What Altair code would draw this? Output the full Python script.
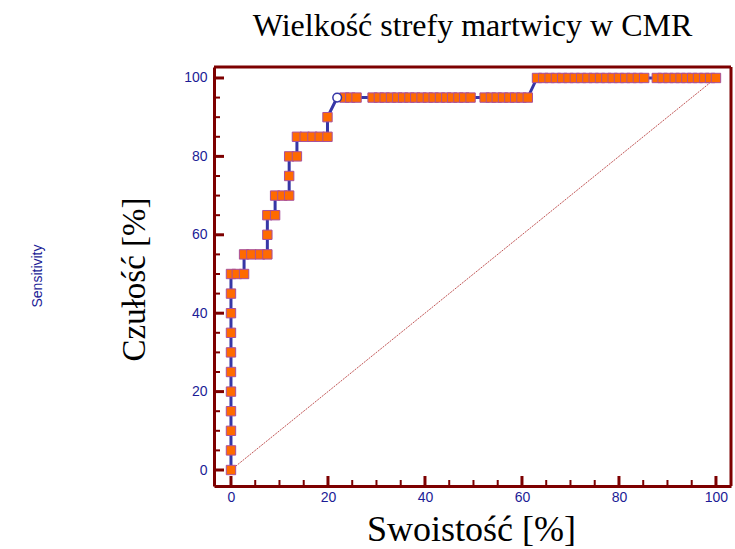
import altair as alt
import pandas as pd

title_text = "Wielkość strefy martwicy w CMR"
x_title = "Swoistość [%]"
y_title = "Czułość [%]"
side_label = "Sensitivity"

# ROC criterion points: 100 - specificity (%) and sensitivity (%), one row per sensitivity level
fpr = [
    0, 0, 0, 0, 0, 0, 0, 0, 0, 0,
    0, 1.2, 2.7,
    2.7, 4.2, 6.0, 7.5,
    7.5,
    7.5, 9.1,
    9.1, 10.6, 12.0,
    12.0,
    12.0, 13.6,
    13.6, 15.2, 16.8, 18.3, 19.9,
    19.9,
    21.9, 23.4, 24.6, 25.9, 29.2, 30.5, 31.7, 33.0, 34.3, 35.5, 36.8, 38.0, 39.3,
    40.6, 41.8, 43.1, 44.4, 45.6, 46.9, 48.1, 49.4, 52.3, 53.6, 54.8, 56.1, 57.4,
    58.6, 59.9, 61.2,
    63.1, 64.4, 65.7, 67.0, 68.3, 69.6, 70.9, 72.2, 73.5, 74.8, 76.1, 77.4, 78.7,
    80.0, 81.3, 82.6, 83.9, 85.2, 87.8, 89.0, 90.2, 91.5, 92.7, 93.9, 95.1, 96.3,
    97.6, 98.8, 100,
]
sens = [
    0, 5, 10, 15, 20, 25, 30, 35, 40, 45,
    50, 50, 50,
    55, 55, 55, 55,
    60,
    65, 65,
    70, 70, 70,
    75,
    80, 80,
    85, 85, 85, 85, 85,
    90,
    95, 95, 95, 95, 95, 95, 95, 95, 95, 95, 95, 95, 95,
    95, 95, 95, 95, 95, 95, 95, 95, 95, 95, 95, 95, 95,
    95, 95, 95,
    100, 100, 100, 100, 100, 100, 100, 100, 100, 100, 100, 100, 100,
    100, 100, 100, 100, 100, 100, 100, 100, 100, 100, 100, 100, 100,
    100, 100, 100,
]

# optimal criterion, drawn as an open circle
opt_fpr = 21.9
opt_sens = 95

# chance diagonal
diag_x = [0, 100]
diag_y = [0, 100]

# axis labels and tick positions
label_values = [0, 20, 40, 60, 80, 100]
major_ticks = [0, 20, 40, 60, 80, 100]
minor_ticks = [5, 10, 15, 25, 30, 35, 45, 50, 55, 65, 70, 75, 85, 90, 95]

FRAME = "#7d0000"
LABEL = "#1c1c96"
CURVE = "#3636a6"

W, H = 517, 419

roc = pd.DataFrame({"fpr": fpr, "sens": sens, "order": list(range(len(fpr)))})
squares = roc[~((roc.fpr == opt_fpr) & (roc.sens == opt_sens))]
opt = pd.DataFrame({"fpr": [opt_fpr], "sens": [opt_sens]})
diag = pd.DataFrame({"fpr": diag_x, "sens": diag_y})
xmaj = pd.DataFrame({"v": major_ticks})
xmin = pd.DataFrame({"v": minor_ticks})
side = pd.DataFrame({"t": [side_label]})
one = pd.DataFrame({"k": [0]})

xs = alt.Scale(domain=[-3.5, 103.1], nice=False, zero=False)
ys = alt.Scale(domain=[-4.08, 102.8], nice=False, zero=False)

x_axis = alt.Axis(
    values=label_values, title=x_title, ticks=False, grid=False,
    domainColor=FRAME, domainWidth=3,
    labelColor=LABEL, labelFont="Liberation Sans", labelFontSize=14, labelPadding=4,
    titleFont="Liberation Serif", titleFontSize=36, titleFontWeight="normal",
    titleColor="black", titleX=257, titleY=54, titleBaseline="alphabetic",
    titleAlign="center",
)
y_axis = alt.Axis(
    values=label_values, title=y_title, ticks=False, grid=False,
    domainColor=FRAME, domainWidth=3,
    labelColor=LABEL, labelFont="Liberation Sans", labelFontSize=14, labelPadding=7,
    titleFont="Liberation Serif", titleFontSize=33, titleFontWeight="normal",
    titleColor="black", titleX=-70, titleY=212, titleBaseline="alphabetic",
    titleAlign="center", titleAngle=270,
)


def X(field):
    return alt.X(field, type="quantitative", scale=xs, axis=x_axis)


def Y(field):
    return alt.Y(field, type="quantitative", scale=ys, axis=y_axis)


diag_layer = alt.Chart(diag).mark_line(
    color="#b02828", strokeWidth=0.8, strokeDash=[2, 1]
).encode(x=X("fpr"), y=Y("sens"))

curve = alt.Chart(roc).mark_line(color=CURVE, strokeWidth=3).encode(
    x=X("fpr"), y=Y("sens"), order="order:Q"
)

pts = alt.Chart(squares).mark_point(
    shape="square", filled=True, size=88, fill="#ff6a00", stroke="#a8509c",
    strokeWidth=1, opacity=1,
).encode(x=X("fpr"), y=Y("sens"))

opt_pt = alt.Chart(opt).mark_point(
    shape="circle", filled=True, size=75, fill="white", stroke=CURVE,
    strokeWidth=1.5, opacity=1,
).encode(x=X("fpr"), y=Y("sens"))

# inward ticks on the x axis
xt_major = alt.Chart(xmaj).mark_rule(color=FRAME, strokeWidth=3).encode(
    x=X("v"), y=alt.value(H), y2=alt.value(H - 10)
)
xt_minor = alt.Chart(xmin).mark_rule(color=FRAME, strokeWidth=2).encode(
    x=X("v"), y=alt.value(H), y2=alt.value(H - 6)
)
# inward ticks on the y axis
yt_major = alt.Chart(xmaj).mark_rule(color=FRAME, strokeWidth=3).encode(
    y=Y("v"), x=alt.value(0), x2=alt.value(10)
)
yt_minor = alt.Chart(xmin).mark_rule(color=FRAME, strokeWidth=2).encode(
    y=Y("v"), x=alt.value(0), x2=alt.value(6)
)

# top and right edges of the frame
top_edge = alt.Chart(one).mark_rule(color=FRAME, strokeWidth=3).encode(
    x=alt.value(0), x2=alt.value(W), y=alt.value(0)
)
right_edge = alt.Chart(one).mark_rule(color=FRAME, strokeWidth=3).encode(
    x=alt.value(W), y=alt.value(0), y2=alt.value(H)
)

side_text = alt.Chart(side).mark_text(
    angle=270, font="Liberation Sans", fontSize=14, color=LABEL
).encode(text="t:N", x=alt.value(-176), y=alt.value(209))

chart = (
    alt.layer(
        diag_layer, curve, xt_major, xt_minor, yt_major, yt_minor,
        top_edge, right_edge, pts, opt_pt, side_text,
    )
    .properties(
        width=W,
        height=H,
        autosize=alt.AutoSizeParams(type="none"),
        padding={"left": 214, "top": 67, "right": 4, "bottom": 63},
        title=alt.TitleParams(
            title_text, font="Liberation Serif", fontSize=32,
            fontWeight="normal", color="black", anchor="middle",
            baseline="alphabetic", offset=28, dy=30,
        ),
    )
    .configure_view(strokeWidth=0)
    .configure(background="white")
)

chart.save("out.html", embed_options={"renderer": "svg", "actions": False})
